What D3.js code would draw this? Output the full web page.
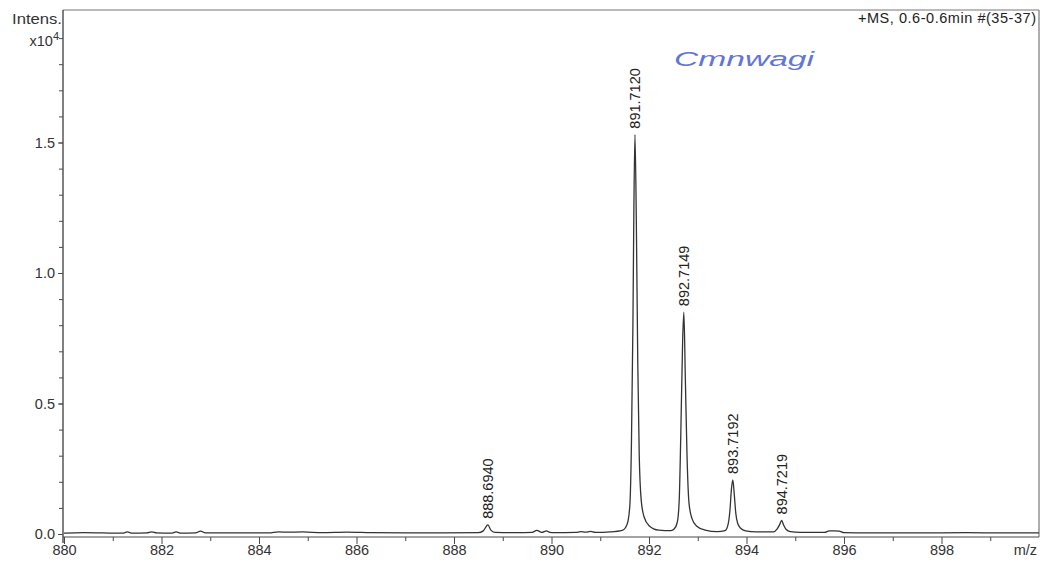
<!DOCTYPE html>
<html><head><meta charset="utf-8">
<script src="https://cdn.jsdelivr.net/npm/d3@7"></script>
<style>body{margin:0;background:#fff}svg{display:block}text{font-family:"Liberation Sans",Arial,sans-serif}</style>
</head><body><svg id="c" width="1042" height="563"></svg>
<script>
// m/z values of the profile and intensity (x10^4)
const mz = [880.0,880.4,880.8,881.2,881.3,881.4,881.7,881.8,881.9,882.2,882.3,882.4,882.7,882.8,882.9,883.5,884.2,884.4,884.6,884.9,885.3,885.8,886.3,887.0,887.8,888.5,888.6,888.694,888.76,888.85,889.3,889.6,889.7,889.8,889.9,889.95,890.05,890.5,890.6,890.7,890.8,890.9,891.2,891.45,891.52,891.57,891.61,891.64,891.67,891.69,891.712,891.74,891.77,891.8,891.84,891.9,892.0,892.2,892.45,892.52,892.58,892.62,892.65,892.69,892.715,892.745,892.78,892.82,892.88,892.98,893.15,893.4,893.56,893.62,893.66,893.69,893.7192,893.75,893.78,893.82,893.88,893.98,894.2,894.55,894.63,894.68,894.7219,894.76,894.81,894.9,895.1,895.6,895.7,895.8,895.9,896.0,896.5,897.5,898.5,899.3,900.0];
const intensity = [0.003,0.005,0.004,0.003,0.008,0.003,0.004,0.008,0.004,0.003,0.008,0.003,0.004,0.011,0.004,0.004,0.004,0.008,0.007,0.008,0.005,0.007,0.005,0.004,0.004,0.005,0.012,0.035,0.014,0.006,0.005,0.006,0.014,0.006,0.012,0.007,0.005,0.006,0.009,0.007,0.010,0.006,0.008,0.014,0.025,0.05,0.12,0.35,0.8,1.25,1.53,1.2,0.65,0.3,0.13,0.065,0.032,0.015,0.013,0.02,0.045,0.13,0.36,0.74,0.85,0.6,0.3,0.12,0.06,0.03,0.015,0.009,0.013,0.035,0.09,0.17,0.207,0.15,0.08,0.04,0.022,0.012,0.008,0.008,0.02,0.036,0.052,0.035,0.018,0.009,0.006,0.006,0.012,0.012,0.011,0.005,0.004,0.004,0.005,0.004,0.004];
// labelled peaks
const peakMz = [888.6940, 891.7120, 892.7149, 893.7192, 894.7219];
const peakInt = [0.035, 1.53, 0.85, 0.207, 0.052];
const peakLabels = ["888.6940","891.7120","892.7149","893.7192","894.7219"];
const xTicks = [880,882,884,886,888,890,892,894,896,898];
const yTicks = [0.0,0.5,1.0,1.5];

const svg = d3.select("#c");
const L = 63, R = 1039, T = 10, B0 = 534, AX = 537;
const x = d3.scaleLinear().domain([880,900]).range([L+1,R]);
const y = d3.scaleLinear().domain([0,2.0]).range([B0,B0-522]);
const axisCol = "#4a4a4a", txtCol = "#333", FS = 14.5;

// frame
svg.append("line").attr("x1",L).attr("x2",R).attr("y1",T).attr("y2",T).attr("stroke","#777").attr("stroke-width",1.2);
svg.append("line").attr("x1",R).attr("x2",R).attr("y1",T).attr("y2",AX).attr("stroke","#777").attr("stroke-width",1.2);

// y axis
const yMinor = d3.range(0,20).map(i=>i/10);
svg.append("g").attr("transform",`translate(${L},0)`)
  .call(d3.axisLeft(y).tickValues(yMinor).tickSize(4).tickFormat(""))
  .call(g=>{g.select(".domain").remove();g.selectAll("line").attr("stroke",axisCol);});
svg.append("g").attr("transform",`translate(${L},0)`)
  .call(d3.axisLeft(y).tickValues(yTicks).tickSize(5).tickPadding(3).tickFormat(d3.format(".1f")))
  .call(g=>{g.select(".domain").remove();g.selectAll("line").attr("stroke",axisCol);
    g.selectAll("text").attr("font-size",FS).attr("fill",txtCol);});
svg.append("line").attr("x1",L).attr("x2",L).attr("y1",T).attr("y2",AX+6).attr("stroke",axisCol).attr("stroke-width",1.4);

// x axis
svg.append("g").attr("transform",`translate(0,${AX})`)
  .call(d3.axisBottom(x).tickValues(d3.range(881,900,2)).tickSize(4).tickFormat(""))
  .call(g=>{g.select(".domain").remove();g.selectAll("line").attr("stroke",axisCol);});
svg.append("g").attr("transform",`translate(0,${AX})`)
  .call(d3.axisBottom(x).tickValues(xTicks).tickSize(7).tickPadding(1).tickFormat(d3.format("d")))
  .call(g=>{g.select(".domain").remove();g.selectAll("line").attr("stroke",axisCol);
    g.selectAll("text").attr("font-size",FS).attr("fill",txtCol);});
svg.append("line").attr("x1",L).attr("x2",R).attr("y1",AX).attr("y2",AX).attr("stroke",axisCol).attr("stroke-width",1.2);
svg.append("text").attr("x",1037).attr("y",555).attr("text-anchor","end").attr("font-size",FS).attr("fill",txtCol).text("m/z");

// y label
svg.append("text").attr("x",62).attr("y",24).attr("text-anchor","end").attr("font-size",FS).attr("fill",txtCol)
  .attr("textLength",50).attr("lengthAdjust","spacingAndGlyphs").text("Intens.");
const xl = svg.append("text").attr("x",59).attr("y",46).attr("text-anchor","end").attr("font-size",FS).attr("fill",txtCol);
xl.append("tspan").text("x10");
xl.append("tspan").attr("dy",-6).attr("font-size",11).text("4");

// title
svg.append("text").attr("x",1036).attr("y",23).attr("text-anchor","end").attr("font-size",FS).attr("fill","#222")
  .attr("textLength",178).text("+MS, 0.6-0.6min #(35-37)");

// handwriting
svg.append("text").attr("x",674).attr("y",66).attr("font-size",20).attr("font-style","italic")
  .attr("textLength",140).attr("lengthAdjust","spacingAndGlyphs")
  .attr("fill","#6275d8").attr("font-family","'DejaVu Sans'").text("Cmnwagi");

// spectrum
const pts = mz.map((m,i)=>[m,intensity[i]]);
const line = d3.line().x(d=>x(d[0])).y(d=>y(d[1])).curve(d3.curveMonotoneX);
svg.append("path").attr("d",line(pts)).attr("fill","none").attr("stroke","#333").attr("stroke-width",1.3).attr("stroke-linejoin","round");

// peak labels
peakMz.forEach((m,i)=>{
  const px = x(m), py = y(peakInt[i]) - 6;
  svg.append("text").attr("transform",`translate(${px+5},${py}) rotate(-90)`)
    .attr("font-size",FS).attr("fill","#222").text(peakLabels[i]);
});
</script></body></html>
